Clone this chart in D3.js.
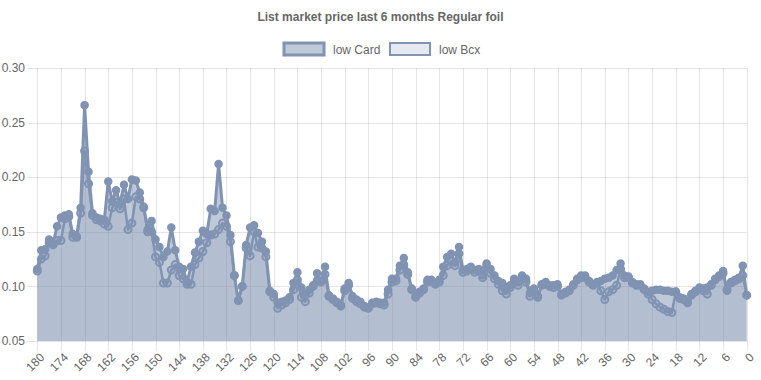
<!DOCTYPE html>
<html>
<head>
<meta charset="utf-8">
<script src="https://cdn.jsdelivr.net/npm/d3@7"></script>
<style>
  body { margin: 0; background: #fff; }
  text { font-family: "Liberation Sans", Arial, Helvetica, sans-serif; fill: #666; }
</style>
</head>
<body>
<div id="chartContainer"></div>
<script>
// days before today, left to right
const days = d3.range(180, -1, -1);

const lowCard = [
  0.116, 0.133, 0.134, 0.143, 0.139, 0.155, 0.163, 0.165, 0.166, 0.148, 0.146, 0.172,
  0.266, 0.205, 0.167, 0.163, 0.162, 0.161, 0.196, 0.178, 0.188, 0.176, 0.193, 0.180,
  0.198, 0.197, 0.186, 0.173, 0.152, 0.160, 0.143, 0.136, 0.127, 0.132, 0.154, 0.133,
  0.118, 0.116, 0.104, 0.118, 0.131, 0.141, 0.151, 0.148, 0.171, 0.169, 0.212, 0.172,
  0.165, 0.147, 0.110, 0.087, 0.100, 0.138, 0.154, 0.156, 0.149, 0.141, 0.132, 0.096,
  0.093, 0.085, 0.086, 0.087, 0.090, 0.103, 0.113, 0.099, 0.093, 0.097, 0.101, 0.112,
  0.105, 0.118, 0.092, 0.089, 0.086, 0.083, 0.098, 0.103, 0.091, 0.088, 0.086, 0.082,
  0.081, 0.085, 0.086, 0.085, 0.085, 0.097, 0.107, 0.107, 0.119, 0.126, 0.113, 0.098,
  0.091, 0.095, 0.098, 0.106, 0.106, 0.103, 0.106, 0.118, 0.127, 0.130, 0.122, 0.136,
  0.115, 0.116, 0.118, 0.115, 0.116, 0.110, 0.121, 0.116, 0.110, 0.105, 0.103, 0.099,
  0.101, 0.107, 0.104, 0.110, 0.107, 0.094, 0.098, 0.091, 0.102, 0.104, 0.101, 0.101,
  0.102, 0.093, 0.095, 0.097, 0.102, 0.107, 0.110, 0.110, 0.105, 0.102, 0.104, 0.105,
  0.107, 0.108, 0.110, 0.115, 0.121, 0.110, 0.109, 0.104, 0.102, 0.102, 0.098, 0.095,
  0.096, 0.097, 0.097, 0.096, 0.096, 0.095, 0.095, 0.090, 0.089, 0.086, 0.093, 0.096,
  0.099, 0.098, 0.099, 0.102, 0.107, 0.110, 0.114, 0.096, 0.104, 0.106, 0.108, 0.119,
  0.092
];

const lowBcx = [
  0.114, 0.125, 0.128, 0.140, 0.138, 0.142, 0.142, 0.162, 0.164, 0.145, 0.145, 0.167,
  0.224, 0.194, 0.165, 0.161, 0.160, 0.157, 0.155, 0.172, 0.177, 0.171, 0.180, 0.152,
  0.158, 0.182, 0.180, 0.172, 0.150, 0.150, 0.127, 0.122, 0.103, 0.103, 0.115, 0.120,
  0.110, 0.107, 0.102, 0.102, 0.120, 0.126, 0.132, 0.140, 0.147, 0.148, 0.152, 0.158,
  0.155, 0.141, 0.110, 0.087, 0.100, 0.135, 0.128, 0.150, 0.136, 0.135, 0.127, 0.095,
  0.090, 0.080, 0.083, 0.085, 0.088, 0.097, 0.106, 0.090, 0.086, 0.094, 0.100, 0.105,
  0.104, 0.111, 0.091, 0.088, 0.085, 0.082, 0.096, 0.101, 0.089, 0.086, 0.084, 0.081,
  0.080, 0.084, 0.085, 0.084, 0.083, 0.093, 0.104, 0.105, 0.115, 0.120, 0.111, 0.097,
  0.090, 0.094, 0.097, 0.104, 0.105, 0.102, 0.104, 0.110, 0.119, 0.123, 0.119, 0.130,
  0.113, 0.114, 0.116, 0.113, 0.114, 0.108, 0.118, 0.112, 0.107, 0.102, 0.096, 0.093,
  0.099, 0.104, 0.101, 0.107, 0.104, 0.091, 0.095, 0.090, 0.101, 0.102, 0.100, 0.099,
  0.100, 0.092, 0.094, 0.096, 0.101, 0.106, 0.108, 0.108, 0.104, 0.101, 0.103, 0.096,
  0.088, 0.095, 0.097, 0.101, 0.116, 0.108, 0.108, 0.103, 0.101, 0.101, 0.097, 0.093,
  0.088, 0.084, 0.081, 0.079, 0.077, 0.076, 0.095, 0.089, 0.088, 0.085, 0.092, 0.095,
  0.098, 0.096, 0.093, 0.101, 0.106, 0.109, 0.112, 0.097, 0.103, 0.105, 0.107, 0.110,
  0.092
];

const yTicks = [0.05, 0.1, 0.15, 0.2, 0.25, 0.3];
const seriesNames = ["low Card", "low Bcx"];

const W = 761, H = 380;
const margin = { top: 68, right: 14, bottom: 39, left: 37 };
const lineColor = "rgb(128,147,178)";
const gridColor = "rgba(0,0,0,0.1)";

const svg = d3.select("#chartContainer").append("svg").attr("width", W).attr("height", H);

const x = d3.scalePoint().domain(days).range([margin.left + 0.3, W - margin.right - 0.3]);
const y = d3.scaleLinear().domain([0.05, 0.3]).range([H - margin.bottom, margin.top]);

// title
svg.append("text")
  .attr("x", W / 2).attr("y", 21)
  .attr("text-anchor", "middle")
  .style("font-size", "12px").style("font-weight", "bold")
  .text("List market price last 6 months Regular foil");

// legend
const legendItems = [
  { name: seriesNames[0], fill: "rgba(128,147,178,0.5)", sw: 3, w: 96 },
  { name: seriesNames[1], fill: "rgba(128,147,178,0.2)", sw: 2, w: 93 }
];
let lx = 284;
legendItems.forEach((d) => {
  svg.append("rect")
    .attr("x", lx).attr("y", 43).attr("width", 40).attr("height", 12)
    .attr("fill", d.fill).attr("stroke", lineColor).attr("stroke-width", d.sw);
  svg.append("text")
    .attr("x", lx + 49).attr("y", 53.5)
    .style("font-size", "12px")
    .text(d.name);
  lx += d.w + 10;
});

// grid
const grid = svg.append("g");
grid.selectAll(".hg").data(yTicks).enter().append("line")
  .attr("x1", margin.left - 10).attr("x2", W - margin.right)
  .attr("y1", (d) => Math.round(y(d)) + 0.5).attr("y2", (d) => Math.round(y(d)) + 0.5)
  .attr("stroke", gridColor);

const xTicks = days.filter((d) => d % 6 === 0);
grid.selectAll(".vg").data(xTicks).enter().append("line")
  .attr("x1", (d) => Math.round(x(d)) + 0.5).attr("x2", (d) => Math.round(x(d)) + 0.5)
  .attr("y1", margin.top).attr("y2", H - margin.bottom + 10)
  .attr("stroke", gridColor);

// y labels
svg.selectAll(".yl").data(yTicks).enter().append("text")
  .attr("x", margin.left - 12).attr("y", (d) => y(d))
  .attr("dy", "0.35em")
  .attr("text-anchor", "end")
  .style("font-size", "12px")
  .text((d) => d.toFixed(2));

// x labels
svg.selectAll(".xl").data(xTicks).enter().append("text")
  .attr("transform", (d) => `translate(${x(d) + 5},${H - margin.bottom + 14}) rotate(-45)`)
  .attr("dy", "0.35em")
  .attr("text-anchor", "end")
  .style("font-size", "12px")
  .text((d) => d);

// series, drawn back to front like the original
const series = [
  { values: lowBcx, fill: "rgba(128,147,178,0.2)", width: 2.5, r: 3.5, dot: "rgba(128,147,178,0.2)", dotStroke: 2 },
  { values: lowCard, fill: "rgba(128,147,178,0.5)", width: 3, r: 3.5, dot: lineColor, dotStroke: 1.5 }
];

const area = d3.area()
  .x((d, i) => x(days[i]))
  .y0(y(0.05))
  .y1((d) => y(d));

const line = d3.line()
  .x((d, i) => x(days[i]))
  .y((d) => y(d));

series.forEach((s) => {
  svg.append("path").attr("d", area(s.values)).attr("fill", s.fill);
});

series.forEach((s) => {
  const g = svg.append("g");
  g.append("path").attr("d", line(s.values))
    .attr("fill", "none").attr("stroke", lineColor).attr("stroke-width", s.width)
    .attr("stroke-linejoin", "round");
  g.selectAll("circle").data(s.values).enter().append("circle")
    .attr("cx", (d, i) => x(days[i]))
    .attr("cy", (d) => y(d))
    .attr("r", s.r)
    .attr("fill", s.dot)
    .attr("stroke", lineColor)
    .attr("stroke-width", s.dotStroke);
});
</script>
</body>
</html>
